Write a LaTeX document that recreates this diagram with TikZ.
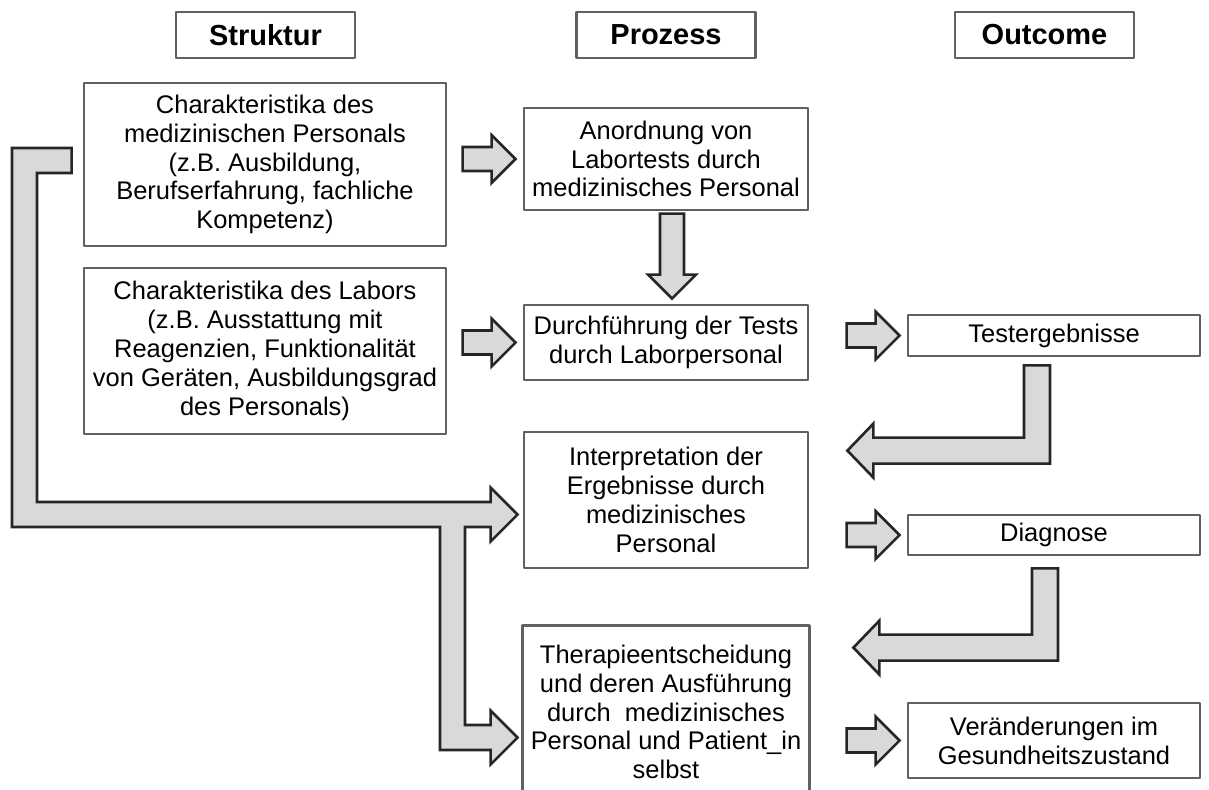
\documentclass[tikz,border=0pt]{standalone}
\usepackage{fontspec}
\setmainfont{Liberation Sans}
\usetikzlibrary{calc}
\tikzset{
  boxline/.style={draw=black!62, line width=1.6pt},
  box/.style={boxline, fill=white, align=center, inner sep=0pt, font=\fontsize{14.5}{16.4}\selectfont},
  boxsize/.style 2 args={minimum width=#1*0.02cm, minimum height=#2*0.02cm},
  headbox/.style={boxline, boxsize={179}{46}, font=\fontsize{16.5}{18}\selectfont\bfseries},
  arrowbody/.style={draw=black!85, fill=black!15, line width=1.5pt, line join=miter},
  pics/blockarrow/.style={code={
    \draw[arrowbody] (0,0) -- (-24,-24) -- (-24,-12) -- (-#1,-12) -- (-#1,12) -- (-24,12) -- (-24,24) -- cycle;}}
}
\begin{document}
\begin{tikzpicture}[x=0.02cm, y=-0.02cm, line join=round]
	\useasboundingbox (0,0) rectangle (1209,789);
	\foreach \n/\x/\t in {hs/265.5/Struktur, hp/666/Prozess, ho/1044.5/Outcome}
		\node[headbox] (\n) at (\x,35) {\t};
	
	\node[box, boxsize={362}{163}] (a) at (265,164.5) {Charakteristika des\\medizinischen Personals\\(z.B. Ausbildung,\\Berufserfahrung, fachliche\\Kompetenz)};
	\node[box, boxsize={362}{166}] (b) at (265,351) {Charakteristika des Labors\\(z.B. Ausstattung mit\\Reagenzien, Funktionalität\\von Geräten, Ausbildungsgrad\\des Personals)};
	
	\node[box, boxsize={284}{102}] (p1) at (666,159) {Anordnung von\\Labortests durch\\medizinisches Personal};
	\node[box, boxsize={284}{75}] (p2) at (666,342.5) {Durchführung der Tests\\durch Laborpersonal};
	\node[box, boxsize={284}{136}] (p3) at (666,500) {Interpretation der\\Ergebnisse durch\\medizinisches\\Personal};
	\node[box, draw=none, boxsize={284}{170}] (p4) at (666,712) {Therapieentscheidung\\und deren Ausführung\\durch\ \ medizinisches\\Personal und Patient\_in\\selbst};
	\draw[boxline] (p4.south west) -- (p4.north west) -- (p4.north east) -- (p4.south east);
	
	\node[box, boxsize={292}{41}] (o1) at (1054,335.5) {Testergebnisse};
	\node[box, boxsize={292}{40}] (o2) at (1054,535) {Diagnose};
	\node[box, boxsize={292}{75}] (o3) at (1054,740.5) {Veränderungen im\\Gesundheitszustand};
	
	\foreach \t in {p1,p2,o1,o2,o3}
		\pic at ($(\t.west)+(-7,0)$) {blockarrow=53};
	\pic[rotate=-90] at ($(p2.north)+(6,-5)$) {blockarrow=85};
	
	\path ($(o1.south)+(-17,8)$) coordinate (s1)
		($(p3.north east)+(38,20)$) coordinate (t1)
		($(o2.south)+(-9,12)$) coordinate (s2)
		($(p4.north east)+(44,22)$) coordinate (t2);
	\foreach \s/\t in {s1/t1,s2/t2}
		\draw[arrowbody] ($(\s)+(-13,0)$) -- ($(\s)+(13,0)$) -- ($(\s |- \t)+(13,13)$)
			-- ($(\t)+(26,13)$) -- ($(\t)+(26,27)$) -- (\t) -- ($(\t)+(26,-27)$) -- ($(\t)+(26,-13)$)
			-- ($(\s |- \t)+(-13,-13)$) -- cycle;
	
	\path ($(a.west)+(-11,-4)$) coordinate (bs)
		($(p3.west)+(-5,14.5)$) coordinate (bt1)
		($(p4.west)+(-5,25.5)$) coordinate (bt2)
		(24.5,0) coordinate (bl)
		(452.5,0) coordinate (bv);
	\draw[arrowbody] ($(bs)+(0,-12.5)$) -- ($(bl |- bs)+(-12.5,-12.5)$) -- ($(bl |- bt1)+(-12.5,12.5)$)
		-- ($(bv |- bt1)+(-12.5,12.5)$) -- ($(bv |- bt2)+(-12.5,12.5)$)
		-- ($(bt2)+(-27,12.5)$) -- ($(bt2)+(-27,27)$) -- (bt2) -- ($(bt2)+(-27,-27)$) -- ($(bt2)+(-27,-12.5)$)
		-- ($(bv |- bt2)+(12.5,-12.5)$) -- ($(bv |- bt1)+(12.5,12.5)$)
		-- ($(bt1)+(-27,12.5)$) -- ($(bt1)+(-27,27)$) -- (bt1) -- ($(bt1)+(-27,-27)$) -- ($(bt1)+(-27,-12.5)$)
		-- ($(bl |- bt1)+(12.5,-12.5)$) -- ($(bl |- bs)+(12.5,12.5)$) -- ($(bs)+(0,12.5)$) -- cycle;
\end{tikzpicture}
\end{document}
